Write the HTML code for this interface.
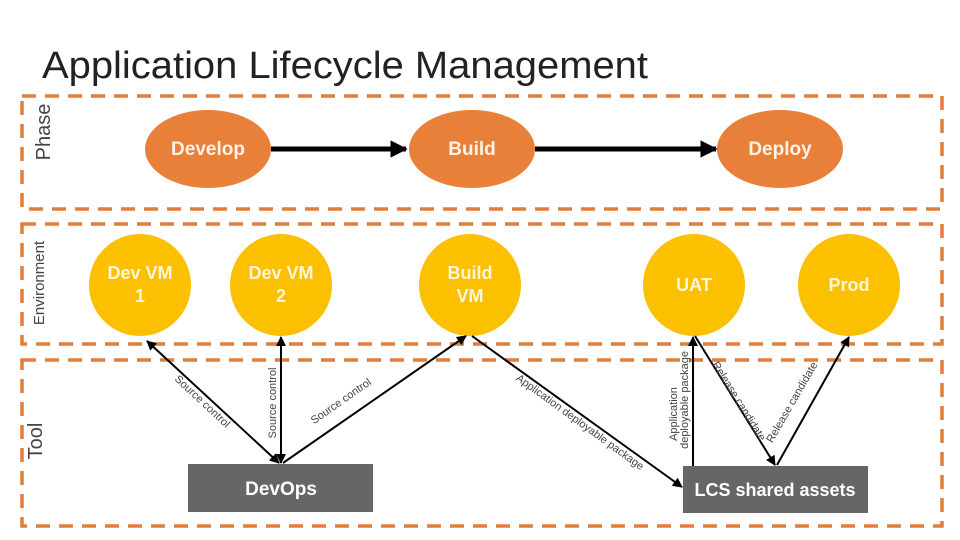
<!DOCTYPE html>
<html><head><meta charset="utf-8"><style>
html,body{margin:0;padding:0;background:#fff;}
svg{display:block;}
text{font-family:"Liberation Sans",sans-serif;}
</style></head><body>
<svg width="960" height="540" viewBox="0 0 960 540" xmlns="http://www.w3.org/2000/svg">
<defs>
<marker id="a" viewBox="0 0 10 10" refX="9" refY="5" markerWidth="5" markerHeight="5" orient="auto-start-reverse"><path d="M0,0L10,5L0,10z" fill="#000"/></marker>
<marker id="b" viewBox="0 0 10 10" refX="9" refY="5" markerWidth="3.5" markerHeight="3.5" orient="auto-start-reverse"><path d="M0,0L10,5L0,10z" fill="#000"/></marker>
</defs>
<text x="42" y="78" font-size="38" fill="#222" textLength="606" lengthAdjust="spacingAndGlyphs">Application Lifecycle Management</text>
<g fill="none" stroke="#E07E3C" stroke-width="3.5" stroke-dasharray="14,9">
<rect x="22" y="96" width="920" height="113"/>
<rect x="22" y="224" width="920" height="120"/>
<rect x="22" y="360" width="920" height="166"/>
</g>
<text transform="translate(50,132) rotate(-90)" font-size="20" fill="#444" text-anchor="middle">Phase</text>
<text transform="translate(44,283) rotate(-90)" font-size="15" fill="#444" text-anchor="middle">Environment</text>
<text transform="translate(42,441) rotate(-90)" font-size="20" fill="#444" text-anchor="middle">Tool</text>
<g fill="#E8803A">
<ellipse cx="208" cy="149" rx="63" ry="39"/>
<ellipse cx="472" cy="149" rx="63" ry="39"/>
<ellipse cx="780" cy="149" rx="63" ry="39"/>
</g>
<g fill="#FDF3E8" font-size="19" font-weight="bold" text-anchor="middle">
<text x="208" y="155">Develop</text>
<text x="472" y="155">Build</text>
<text x="780" y="155">Deploy</text>
</g>
<line x1="271" y1="149" x2="406" y2="149" stroke="#000" stroke-width="5" marker-end="url(#b)"/>
<line x1="535" y1="149" x2="716" y2="149" stroke="#000" stroke-width="5" marker-end="url(#b)"/>
<g fill="#FBC000">
<circle cx="140" cy="285" r="51"/>
<circle cx="281" cy="285" r="51"/>
<circle cx="470" cy="285" r="51"/>
<circle cx="694" cy="285" r="51"/>
<circle cx="849" cy="285" r="51"/>
</g>
<g fill="#FFF6DC" font-size="18" font-weight="bold" text-anchor="middle">
<text x="140" y="279">Dev VM</text><text x="140" y="302">1</text>
<text x="281" y="279">Dev VM</text><text x="281" y="302">2</text>
<text x="470" y="279">Build</text><text x="470" y="302">VM</text>
<text x="694" y="291">UAT</text>
<text x="849" y="291">Prod</text>
</g>
<rect x="188" y="464" width="185" height="48" fill="#666"/>
<rect x="683" y="466" width="185" height="47" fill="#666"/>
<text x="281" y="495" font-size="19" font-weight="bold" fill="#fff" text-anchor="middle">DevOps</text>
<text x="775" y="496" font-size="18" font-weight="bold" fill="#fff" text-anchor="middle">LCS shared assets</text>
<g stroke="#000" stroke-width="2" fill="none">
<line x1="147" y1="341" x2="279" y2="463" marker-start="url(#a)" marker-end="url(#a)"/>
<line x1="281" y1="337" x2="281" y2="463" marker-start="url(#a)" marker-end="url(#a)"/>
<line x1="283" y1="463" x2="466" y2="336" marker-end="url(#a)"/>
<line x1="472" y1="336" x2="682" y2="487" marker-end="url(#a)"/>
<line x1="693" y1="466" x2="693" y2="337" marker-end="url(#a)"/>
<line x1="695" y1="336" x2="775" y2="465" marker-end="url(#a)"/>
<line x1="777" y1="465" x2="849" y2="337" marker-end="url(#a)"/>
</g>
<g fill="#444" font-size="11" text-anchor="middle">
<text transform="translate(200,404) rotate(43)">Source control</text>
<text transform="translate(276,403) rotate(-90)">Source control</text>
<text transform="translate(343,404) rotate(-35)">Source control</text>
<text transform="translate(578,425) rotate(36)">Application deployable package</text>
<text transform="translate(677,414) rotate(-90)">Application</text>
<text transform="translate(688,400) rotate(-90)">deployable package</text>
<text transform="translate(736,403) rotate(58)">Release candidate</text>
<text transform="translate(795,404) rotate(-60)">Release candidate</text>
</g>
</svg>
</body></html>
